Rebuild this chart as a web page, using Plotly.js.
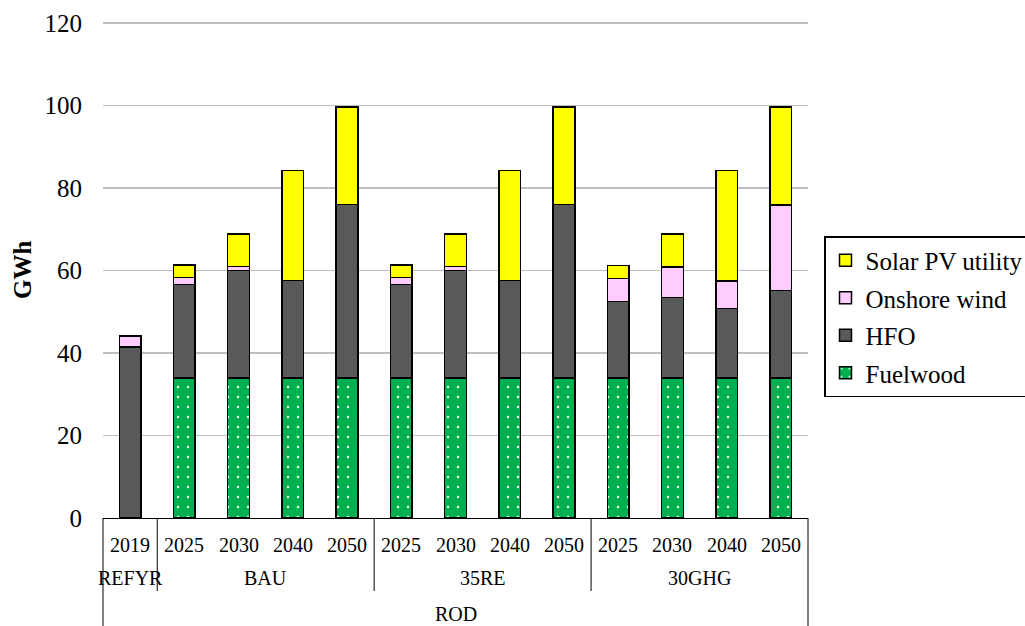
<!DOCTYPE html>
<html>
<head>
<meta charset="utf-8">
<script src="https://cdn.plot.ly/plotly-3.0.1.min.js"></script>
<style>html,body{margin:0;padding:0;background:#fff;}#chart{width:1025px;height:626px;}</style>
</head>
<body>
<div id="chart"></div>
<script>
const scenarios = ["REFYR","BAU","BAU","BAU","BAU","35RE","35RE","35RE","35RE","30GHG","30GHG","30GHG","30GHG"];
const years = ["2019","2025","2030","2040","2050","2025","2030","2040","2050","2025","2030","2040","2050"];
const region = "ROD";
const fuelwood = [0, 34, 34, 34, 34, 34, 34, 34, 34, 34, 34, 34, 34];
const hfo = [41.4, 22.6, 26.0, 23.6, 42.0, 22.6, 26.0, 23.6, 42.0, 18.5, 19.4, 16.8, 21.2];
const onshoreWind = [2.7, 1.7, 1.0, 0, 0, 1.7, 1.0, 0, 0, 5.6, 7.5, 6.7, 20.7];
const solarPV = [0, 3.0, 7.9, 26.6, 23.7, 3.0, 7.9, 26.6, 23.7, 3.1, 8.0, 26.7, 23.7];

const font = "Liberation Serif";
const keys = scenarios.map((s, i) => s + " " + years[i]);
const line = {color: "#000000", width: 1.5};
const traces = [
  {name: "Fuelwood", y: fuelwood, color: "#00B050", rank: 4, pattern: {shape: ".", fgcolor: "#e8fff0", bgcolor: "#00B050", size: 10, solidity: 0.05}},
  {name: "HFO", y: hfo, color: "#595959", rank: 3},
  {name: "Onshore wind", y: onshoreWind, color: "#FFCCFF", rank: 2},
  {name: "Solar PV utility", y: solarPV, color: "#FFFF00", rank: 1}
].map((t, i) => ({
  type: "bar", x: keys, y: t.y, name: t.name, width: 0.4,
  legendgroup: "g" + i, legendrank: t.rank,
  marker: Object.assign({color: t.color, line: line}, t.pattern ? {pattern: t.pattern} : {}),
  hoverinfo: "name+y"
}));

// plot area geometry in px (for converting label rows to paper units)
const plotTop = 22, plotBottom = 518, plotH = plotBottom - plotTop;
const py = (px) => -(px - plotBottom) / plotH;

const annotations = [];
// year row
keys.forEach((k, i) => annotations.push({
  text: years[i], xref: "x", yref: "paper", x: k, y: py(545), xanchor: "center", yanchor: "middle",
  showarrow: false, font: {family: font, size: 20, color: "#000000"}
}));
// scenario groups
const groups = [];
scenarios.forEach((s, i) => {
  if (!groups.length || groups[groups.length - 1].name !== s) groups.push({name: s, start: i, end: i});
  else groups[groups.length - 1].end = i;
});
groups.forEach(g => annotations.push({
  text: g.name, xref: "x", yref: "paper", x: (g.start + g.end) / 2, y: py(578), xanchor: "center", yanchor: "middle",
  showarrow: false, font: {family: font, size: 20, color: "#000000"}
}));
// region row
annotations.push({
  text: region, xref: "x", yref: "paper", x: (keys.length - 1) / 2, y: py(614), xanchor: "center", yanchor: "middle",
  showarrow: false, font: {family: font, size: 20, color: "#000000"}
});
// y title
annotations.push({
  text: "<b>GWh</b>", xref: "paper", yref: "paper", x: (22 - 103) / 705, y: 0.5, xanchor: "center", yanchor: "middle",
  textangle: -90, showarrow: false, font: {family: font, size: 25, color: "#000000"}
});

const shapes = [];
const lineStyle = {color: "#000000", width: 1};
groups.forEach((g, gi) => {
  if (gi > 0) shapes.push({type: "line", xref: "x", yref: "paper", x0: g.start - 0.5, x1: g.start - 0.5, y0: 0, y1: py(591), line: lineStyle});
});
shapes.push({type: "line", xref: "paper", yref: "paper", x0: 0, x1: 0, y0: 0, y1: py(626), line: lineStyle});
shapes.push({type: "line", xref: "paper", yref: "paper", x0: 1, x1: 1, y0: 0, y1: py(626), line: lineStyle});

const layout = {
  width: 1025, height: 626,
  margin: {l: 103, r: 217, t: plotTop, b: 626 - plotBottom},
  barmode: "stack",
  paper_bgcolor: "#ffffff", plot_bgcolor: "#ffffff",
  font: {family: font, color: "#000000", size: 20},
  xaxis: {
    type: "category", categoryorder: "array", categoryarray: keys,
    range: [-0.5, keys.length - 0.5], autorange: false,
    showline: true, linecolor: "#000000", linewidth: 1,
    showgrid: false, ticks: "", showticklabels: false
  },
  yaxis: {
    range: [0, 120.25], autorange: false, dtick: 20, tick0: 0,
    showgrid: true, gridcolor: "#BFBFBF", gridwidth: 1.5,
    zeroline: false, showline: false, ticks: "",
    ticklabelstandoff: 20,
    tickfont: {family: font, size: 25, color: "#000000"}
  },
  legend: {
    xref: "container", yref: "container",
    x: 824 / 1025, xanchor: "left", y: 1 - 236 / 626, yanchor: "top",
    traceorder: "grouped", tracegroupgap: 2,
    bordercolor: "#000000", borderwidth: 1.5, bgcolor: "#ffffff",
    font: {family: font, size: 25, color: "#000000"}
  },
  annotations: annotations,
  shapes: shapes
};

Plotly.newPlot("chart", traces, layout, {displayModeBar: false, staticPlot: true});
</script>
</body>
</html>
